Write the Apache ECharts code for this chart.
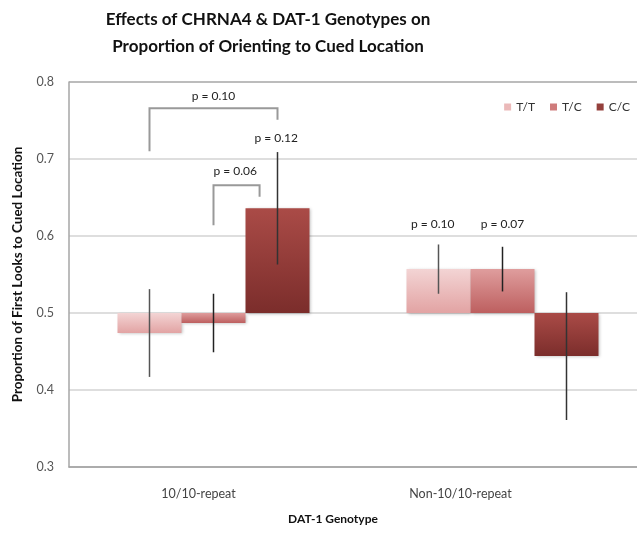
<!DOCTYPE html>
<html><head><meta charset="utf-8">
<script src="https://cdn.jsdelivr.net/npm/echarts@6/dist/echarts.min.js"></script>
<style>html,body{margin:0;padding:0;background:#fff}#c{width:637px;height:533px}</style>
</head><body><div id="c"></div>
<script>
// ---- data ----
const categories = ['10/10-repeat', 'Non-10/10-repeat'];
const genotypes = ['T/T', 'T/C', 'C/C'];
const valuesTT = [0.474, 0.557];
const valuesTC = [0.487, 0.557];
const valuesCC = [0.636, 0.444];
const errTT = [0.057, 0.032];
const errTC = [0.038, 0.029];
const errCC = [0.073, 0.083];
const yTickLabels = ['0.3', '0.4', '0.5', '0.6', '0.7', '0.8'];
const BASELINE = 0.5;

// significance annotations (category index, slot offset in bar widths, values)
const pBrackets = [
  {cat: 0, from: -1, to: 1, top: 0.766, leftEnd: 0.710, rightEnd: 0.751},
  {cat: 0, from: 0, to: 0.72, top: 0.666, leftEnd: 0.614, rightEnd: 0.651}
];
const pLabels = [
  {cat: 0, slot: 0, y: 0.782, text: 'p = 0.10'},
  {cat: 0, slot: 0.34, y: 0.684, text: 'p = 0.06'},
  {cat: 0, slot: 0.98, y: 0.727, text: 'p = 0.12'},
  {cat: 1, slot: -1.09, y: 0.616, text: 'p = 0.10'},
  {cat: 1, slot: 0, y: 0.616, text: 'p = 0.07'}
];

// ---- style ----
const BAR_FRAC = 64 / 289;
const FONT = 'Lato, "Open Sans", sans-serif';
const styles = [
  {top: '#f3d4d4', bottom: '#e2a3a3', legend: '#ebb9b9', err: '#555'},
  {top: '#df9d9d', bottom: '#bd5f5f', legend: '#cf7c7c', err: '#222'},
  {top: '#aa4b47', bottom: '#7b2d2b', legend: '#94403c', err: '#333'}
];
const allValues = [valuesTT, valuesTC, valuesCC];
const allErr = [errTT, errTC, errCC];

function grad(s) {
  return new echarts.graphic.LinearGradient(0, 0, 0, 1, [
    {offset: 0, color: s.top}, {offset: 1, color: s.bottom}
  ]);
}

function barRenderer(slot, s) {
  return function (params, api) {
    const cat = api.value(0), v = api.value(1), e = api.value(2);
    const bw = api.size([1, 0])[0] * BAR_FRAC;
    const base = api.coord([cat, BASELINE]);
    const tip = api.coord([cat, v]);
    const hi = api.coord([cat, v + e]);
    const lo = api.coord([cat, v - e]);
    const cx = base[0] + slot * bw;
    return {
      type: 'group',
      children: [
        {type: 'rect',
         shape: {x: cx - bw / 2, y: Math.min(base[1], tip[1]), width: bw, height: Math.abs(tip[1] - base[1])},
         style: {fill: grad(s), shadowBlur: 3, shadowOffsetX: 1, shadowOffsetY: 1, shadowColor: 'rgba(0,0,0,0.25)'}},
        {type: 'line', z2: 10,
         shape: {x1: cx, y1: hi[1], x2: cx, y2: lo[1]},
         style: {stroke: s.err, lineWidth: 1.5}}
      ]
    };
  };
}

const series = genotypes.map((g, i) => ({
  name: g,
  type: 'custom',
  itemStyle: {color: styles[i].legend},
  encode: {x: 0, y: 1},
  data: categories.map((c, k) => [k, allValues[i][k], allErr[i][k]]),
  renderItem: barRenderer(i - 1, styles[i]),
  clip: false,
  z: 2
}));

series.push({
  name: 'annotations',
  type: 'custom',
  silent: true,
  encode: {x: 0, y: 1},
  data: [[0, 0.5]],
  z: 5,
  renderItem: function (params, api) {
    const bw = api.size([1, 0])[0] * BAR_FRAC;
    const children = [];
    pBrackets.forEach(b => {
      const c = api.coord([b.cat, BASELINE])[0];
      const xl = c + b.from * bw, xr = c + b.to * bw;
      const yt = api.coord([b.cat, b.top])[1];
      const yl = api.coord([b.cat, b.leftEnd])[1];
      const yr = api.coord([b.cat, b.rightEnd])[1];
      children.push({type: 'polyline',
        shape: {points: [[xl, yl], [xl, yt], [xr, yt], [xr, yr]]},
        style: {stroke: '#999', lineWidth: 2, fill: null}});
    });
    pLabels.forEach(l => {
      const p = api.coord([l.cat, l.y]);
      children.push({type: 'text',
        x: p[0] + l.slot * bw, y: p[1],
        style: {text: l.text, fill: '#222', font: '12px ' + FONT, align: 'center', verticalAlign: 'middle'}});
    });
    return {type: 'group', children: children};
  }
});

const chart = echarts.init(document.getElementById('c'), null, {renderer: 'canvas'});
chart.setOption({
  backgroundColor: '#fff',
  animation: false,
  title: {
    text: 'Effects of CHRNA4 & DAT-1 Genotypes on\nProportion of Orienting to Cued Location',
    left: 263, top: 1, textAlign: 'center',
    textStyle: {fontFamily: FONT, fontSize: 17, fontWeight: 'bold', color: '#111', lineHeight: 27}
  },
  legend: {
    data: genotypes,
    right: 2, top: 96,
    icon: 'rect', itemWidth: 7, itemHeight: 7, itemGap: 15,
    textStyle: {fontFamily: FONT, fontSize: 12, color: '#333'}
  },
  grid: {left: 69, width: 578, top: 82, height: 385, containLabel: false, outerBoundsMode: 'none'},
  xAxis: {
    type: 'category',
    data: categories,
    axisLine: {show: true, lineStyle: {color: '#a6a6a6', width: 1.5}},
    axisTick: {show: false},
    splitLine: {show: false},
    axisLabel: {
      margin: 20,
      formatter: (v, i) => '{c' + i + '|' + v + '}',
      rich: {
        c0: {fontFamily: FONT, fontSize: 12.5, color: '#444', padding: [0, 30, 0, 0]},
        c1: {fontFamily: FONT, fontSize: 12.5, color: '#444', padding: [0, 84, 0, 0]}
      }
    },
    name: 'DAT-1 Genotype',
    nameLocation: 'middle',
    nameGap: 46,
    nameTextStyle: {fontFamily: FONT, fontSize: 12, fontWeight: 'bold', color: '#111', padding: [0, 50, 0, 0]}
  },
  yAxis: {
    type: 'value',
    min: 0.3, max: 0.8, interval: 0.1,
    axisLine: {show: true, lineStyle: {color: '#a6a6a6', width: 1.5}},
    axisTick: {show: false},
    splitLine: {show: true, lineStyle: {color: ['#a6a6a6', '#d3d3d3', '#d3d3d3', '#d3d3d3', '#d3d3d3', '#a6a6a6'], width: 1.5}},
    axisLabel: {
      margin: 15,
      fontFamily: FONT, fontSize: 12.5, color: '#555',
      formatter: v => yTickLabels[Math.round((v - 0.3) * 10)]
    },
    name: 'Proportion of First Looks to Cued Location',
    nameLocation: 'middle',
    nameGap: 44,
    nameTextStyle: {fontFamily: FONT, fontSize: 13.5, fontWeight: 'bold', color: '#111'}
  },
  series: series
});
</script>
</body></html>
